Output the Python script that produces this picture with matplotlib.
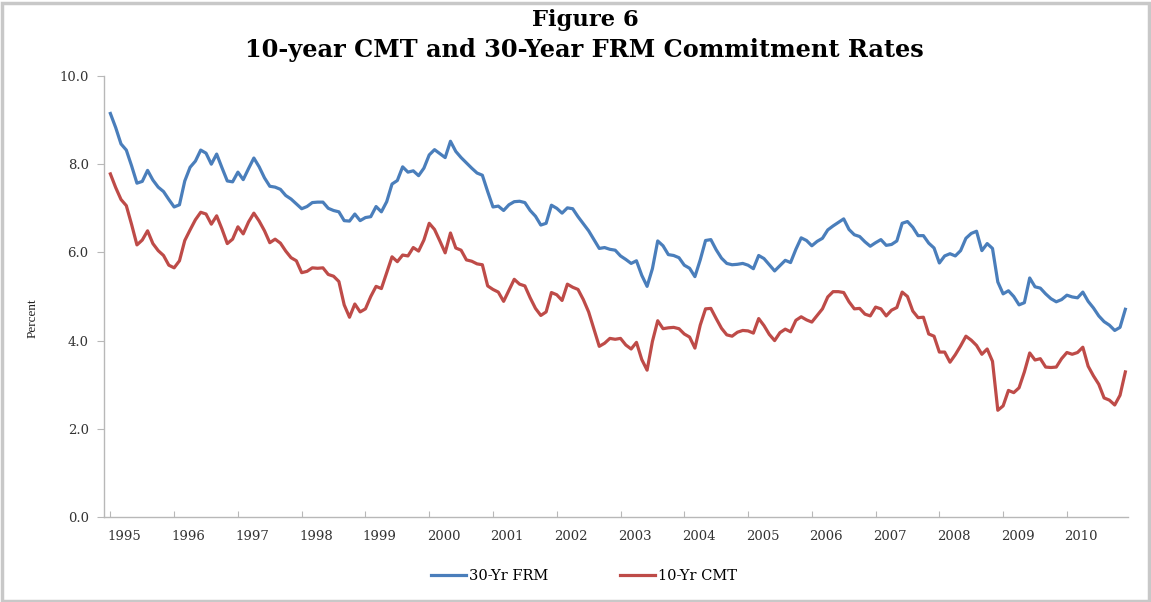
import matplotlib
matplotlib.use("Agg")
import matplotlib.pyplot as plt
import numpy as np
from matplotlib.patches import Rectangle

# Monthly data, Jan 1995 - Dec 2010 (percent)
frm_30yr = [
    9.15, 8.83, 8.46, 8.32, 7.96, 7.57, 7.61, 7.86, 7.64, 7.48, 7.38, 7.20,   # 1995
    7.03, 7.08, 7.62, 7.93, 8.07, 8.32, 8.25, 8.00, 8.23, 7.92, 7.62, 7.60,   # 1996
    7.82, 7.65, 7.90, 8.14, 7.94, 7.69, 7.50, 7.48, 7.43, 7.29, 7.21, 7.10,   # 1997
    6.99, 7.04, 7.13, 7.14, 7.14, 7.00, 6.95, 6.92, 6.72, 6.71, 6.87, 6.72,   # 1998
    6.79, 6.81, 7.04, 6.92, 7.15, 7.55, 7.63, 7.94, 7.82, 7.85, 7.74, 7.91,   # 1999
    8.21, 8.33, 8.24, 8.15, 8.52, 8.29, 8.15, 8.03, 7.91, 7.80, 7.75, 7.38,   # 2000
    7.03, 7.05, 6.95, 7.08, 7.15, 7.16, 7.13, 6.95, 6.82, 6.62, 6.66, 7.07,   # 2001
    7.00, 6.89, 7.01, 6.99, 6.81, 6.65, 6.49, 6.29, 6.09, 6.11, 6.07, 6.05,   # 2002
    5.92, 5.84, 5.75, 5.81, 5.48, 5.23, 5.63, 6.26, 6.15, 5.95, 5.93, 5.88,   # 2003
    5.71, 5.64, 5.45, 5.83, 6.27, 6.29, 6.06, 5.87, 5.75, 5.72, 5.73, 5.75,   # 2004
    5.71, 5.63, 5.93, 5.86, 5.72, 5.58, 5.70, 5.82, 5.77, 6.07, 6.33, 6.27,   # 2005
    6.15, 6.25, 6.32, 6.51, 6.60, 6.68, 6.76, 6.52, 6.40, 6.36, 6.24, 6.14,   # 2006
    6.22, 6.29, 6.16, 6.18, 6.26, 6.66, 6.70, 6.57, 6.38, 6.38, 6.21, 6.10,   # 2007
    5.76, 5.92, 5.97, 5.92, 6.04, 6.32, 6.43, 6.48, 6.04, 6.20, 6.09, 5.33,   # 2008
    5.06, 5.13, 5.00, 4.81, 4.86, 5.42, 5.22, 5.19, 5.06, 4.95, 4.88, 4.93,   # 2009
    5.03, 4.99, 4.97, 5.10, 4.89, 4.74, 4.56, 4.43, 4.35, 4.23, 4.30, 4.71,   # 2010
]

cmt_10yr = [
    7.78, 7.47, 7.20, 7.06, 6.63, 6.17, 6.28, 6.49, 6.20, 6.04, 5.93, 5.71,   # 1995
    5.65, 5.81, 6.27, 6.51, 6.74, 6.91, 6.87, 6.64, 6.83, 6.53, 6.20, 6.30,   # 1996
    6.58, 6.42, 6.69, 6.89, 6.71, 6.49, 6.22, 6.30, 6.21, 6.03, 5.88, 5.81,   # 1997
    5.54, 5.57, 5.65, 5.64, 5.65, 5.50, 5.46, 5.34, 4.81, 4.53, 4.83, 4.65,   # 1998
    4.72, 5.00, 5.23, 5.18, 5.54, 5.90, 5.79, 5.94, 5.92, 6.11, 6.03, 6.28,   # 1999
    6.66, 6.52, 6.26, 5.99, 6.44, 6.10, 6.05, 5.83, 5.80, 5.74, 5.72, 5.24,   # 2000
    5.16, 5.10, 4.89, 5.14, 5.39, 5.28, 5.24, 4.97, 4.73, 4.57, 4.65, 5.09,   # 2001
    5.04, 4.91, 5.28, 5.21, 5.16, 4.93, 4.65, 4.26, 3.87, 3.94, 4.05, 4.03,   # 2002
    4.05, 3.90, 3.81, 3.96, 3.57, 3.33, 3.98, 4.45, 4.27, 4.29, 4.30, 4.27,   # 2003
    4.15, 4.08, 3.83, 4.35, 4.72, 4.73, 4.50, 4.28, 4.13, 4.10, 4.19, 4.23,   # 2004
    4.22, 4.17, 4.50, 4.34, 4.14, 4.00, 4.18, 4.26, 4.20, 4.46, 4.54, 4.47,   # 2005
    4.42, 4.57, 4.72, 4.99, 5.11, 5.11, 5.09, 4.88, 4.72, 4.73, 4.60, 4.56,   # 2006
    4.76, 4.72, 4.56, 4.69, 4.75, 5.10, 5.00, 4.67, 4.52, 4.53, 4.15, 4.10,   # 2007
    3.74, 3.74, 3.51, 3.68, 3.88, 4.10, 4.01, 3.89, 3.69, 3.81, 3.53, 2.42,   # 2008
    2.52, 2.87, 2.82, 2.93, 3.29, 3.72, 3.56, 3.59, 3.40, 3.39, 3.40, 3.59,   # 2009
    3.73, 3.69, 3.73, 3.85, 3.42, 3.20, 3.01, 2.70, 2.65, 2.54, 2.76, 3.29,   # 2010
]

years = list(range(1995, 2011))
y_ticks = [0.0, 2.0, 4.0, 6.0, 8.0, 10.0]
series_labels = ["30-Yr FRM", "10-Yr CMT"]
title_lines = ["Figure 6", "10-year CMT and 30-Year FRM Commitment Rates"]

blue = "#4A7EBB"
red = "#BE4B48"
wide_serif = ["DejaVu Serif"]
serif = ["Liberation Serif", "DejaVu Serif"]

W, H = 1151, 602
fig = plt.figure(figsize=(W / 100, H / 100), dpi=100)
fig.patch.set_facecolor("white")

# outer frame
fig.patches.append(Rectangle((0.002, 0.002), 0.996, 0.993, transform=fig.transFigure,
                             fill=False, edgecolor="#C8C8C8", linewidth=2.5))

ax_left, ax_right = 104 / W, 1128 / W
ax_top, ax_bot = 1 - 76 / H, 1 - 517 / H
ax = fig.add_axes([ax_left, ax_bot, ax_right - ax_left, ax_top - ax_bot])

x = np.arange(len(frm_30yr))
l1, = ax.plot(x, frm_30yr, color=blue, lw=2.3, solid_joinstyle="round")
l2, = ax.plot(x, cmt_10yr, color=red, lw=2.3, solid_joinstyle="round")

ax.set_xlim(-1.2, len(frm_30yr) - 0.5)
ax.set_ylim(0, 10)

for s in ["top", "right"]:
    ax.spines[s].set_visible(False)
for s in ["left", "bottom"]:
    ax.spines[s].set_color("#B8B8B8")
    ax.spines[s].set_linewidth(1.0)

ax.set_yticks(y_ticks)
ax.set_yticklabels([f"{v:.1f}" for v in y_ticks], fontfamily=wide_serif, fontsize=9.5, color="#333333")
ax.tick_params(axis="y", length=5, width=0.8, color="#B8B8B8", pad=6)

jan_pos = [(y - years[0]) * 12 for y in years]
ax.set_xticks(jan_pos)
ax.set_xticklabels([])
ax.set_xticks([p + 2.7 for p in jan_pos], minor=True)
ax.set_xticklabels([str(y) for y in years], minor=True, fontfamily=wide_serif, fontsize=9.5, color="#333333")
ax.tick_params(axis="x", which="major", length=4, width=0.8, color="#B8B8B8", direction="in")
ax.tick_params(axis="x", which="minor", length=0, pad=9)

fig.text(33 / W, 1 - 318 / H, "Percent", rotation=90, ha="center", va="center",
         fontfamily=serif, fontsize=9.5, color="#222222")

fig.text(585 / W, 1 - 20 / H, title_lines[0], ha="center", va="center",
         fontfamily=wide_serif, fontsize=16.3, fontweight="bold", color="black")
fig.text(584 / W, 1 - 50 / H, title_lines[1], ha="center", va="center",
         fontfamily=wide_serif, fontsize=17.3, fontweight="bold", color="black")

fig.legend([l1, l2], series_labels, loc="center", bbox_to_anchor=(584 / W, 1 - 576 / H),
           ncol=2, frameon=False, prop={"family": wide_serif, "size": 10.5},
           handlelength=2.4, handletextpad=0.2, columnspacing=4.9)

fig.savefig("out.png", dpi=100, facecolor="white")
